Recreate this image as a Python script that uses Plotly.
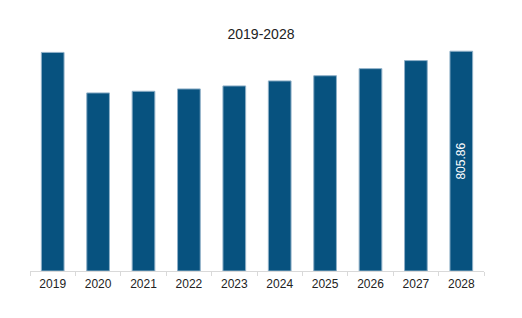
import plotly.graph_objects as go

years = ["2019", "2020", "2021", "2022", "2023", "2024", "2025", "2026", "2027", "2028"]
values = [801.5, 653.0, 659.0, 667.6, 678.6, 697.0, 716.0, 742.0, 771.5, 805.86]
labels = ["", "", "", "", "", "", "", "", "", "805.86"]

fig = go.Figure(go.Bar(
    x=years, y=values, text=labels,
    textposition="inside", insidetextanchor="middle", textangle=-90,
    textfont=dict(color="white", size=12, family="Liberation Sans"),
    marker=dict(color="#07527f", line=dict(color="#8fb0c8", width=1)),
    width=0.5,
))
fig.update_layout(
    width=522, height=318,
    margin=dict(l=30, r=38, t=40, b=47),
    paper_bgcolor="white", plot_bgcolor="white",
    title=dict(text="2019-2028", x=0.5, xanchor="center", y=0.893, yanchor="middle",
               font=dict(size=14, color="#222", family="Liberation Sans")),
    showlegend=False,
    font=dict(family="Liberation Sans", color="#222"),
)
fig.update_xaxes(type="category", showline=True, linecolor="#d9d9d9", linewidth=1,
                 ticks="outside", tickson="boundaries", tickcolor="#d9d9d9", ticklen=4,
                 ticklabelstandoff=2,
                 tickfont=dict(size=12, color="#222"), showgrid=False)
fig.update_yaxes(range=[0, 847], visible=False, showgrid=False)
fig.write_html("out.html")
